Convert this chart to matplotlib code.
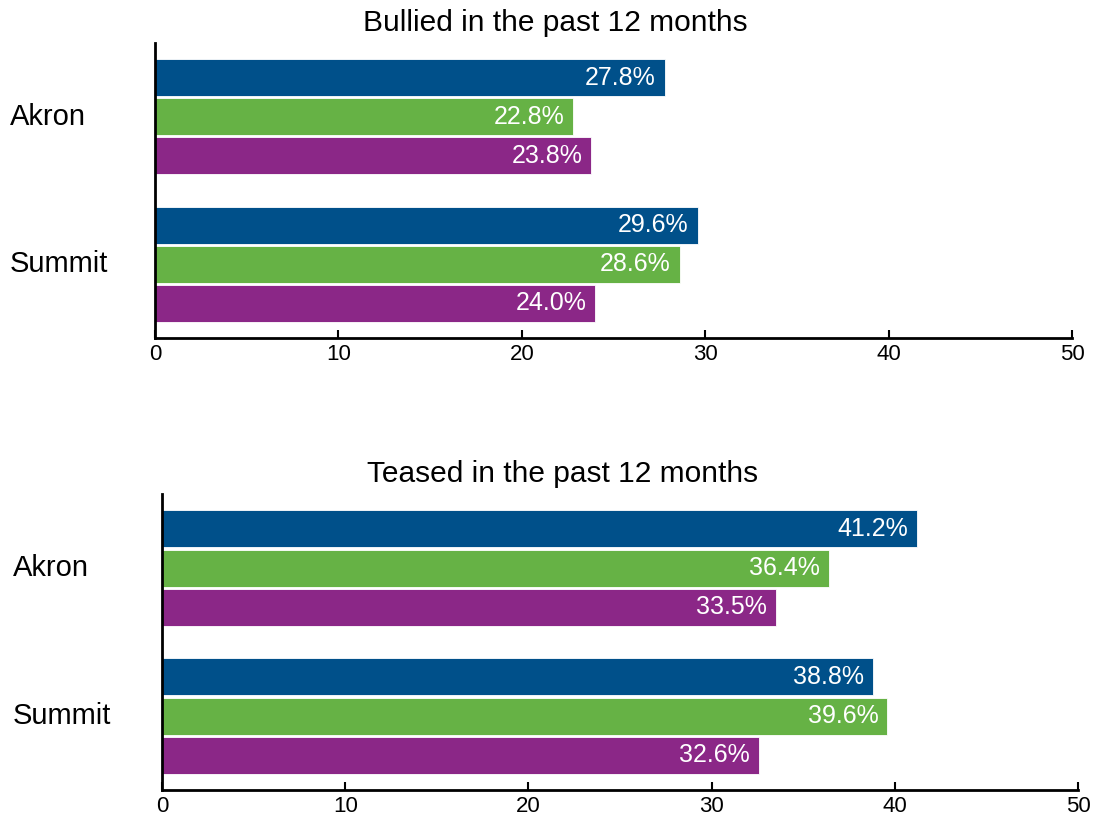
import matplotlib
matplotlib.use("Agg")
import matplotlib.pyplot as plt
import matplotlib.transforms as mtransforms
import numpy as np

plt.rcParams['font.family'] = ['Liberation Sans', 'DejaVu Sans']

categories = ["Akron", "Summit"]
series_names = ["Series 1", "Series 2", "Series 3"]
colors = ["#00508A", "#66B245", "#8B2787"]

bullied_akron = [27.8, 22.8, 23.8]
bullied_summit = [29.6, 28.6, 24.0]
teased_akron = [41.2, 36.4, 33.5]
teased_summit = [38.8, 39.6, 32.6]

titles = ["Bullied in the past 12 months", "Teased in the past 12 months"]
xticks = [0, 10, 20, 30, 40, 50]

fig = plt.figure(figsize=(10.97, 8.18), dpi=100)

panels = [
    dict(rect=[155/1097, 1-338/818, 917/1097, 295/818], data=[bullied_akron, bullied_summit],
         title=titles[0], title_xy=(555/1097, 1-23/818), lab_x=10/1097),
    dict(rect=[162/1097, 1-790/818, 916/1097, 296/818], data=[teased_akron, teased_summit],
         title=titles[1], title_xy=(563/1097, 1-474/818), lab_x=13/1097),
]

offsets = [-0.265, 0.0, 0.265]
height = 0.25

for p in panels:
    ax = fig.add_axes(p["rect"])
    for gi, group in enumerate(p["data"]):
        for si, val in enumerate(group):
            y = gi + offsets[si]
            ax.barh(y, val, height=height, color=colors[si], edgecolor="white", linewidth=0.6)
            ax.annotate(f"{val:.1f}%", xy=(val, y), xytext=(-6.5, 0), textcoords="offset points",
                        ha="right", va="center", color="white", fontsize=18)
    ax.set_xlim(0, 50)
    ax.set_ylim(1.5, -0.5)
    ax.set_xticks(xticks)
    ax.set_xticklabels([str(t) for t in xticks])
    ax.tick_params(axis="x", direction="in", length=6, width=1.5, labelsize=16, pad=4)
    ax.tick_params(axis="y", left=False, labelleft=False)
    for s in ["top", "right"]:
        ax.spines[s].set_visible(False)
    for s in ["left", "bottom"]:
        ax.spines[s].set_linewidth(2)
    trans = mtransforms.blended_transform_factory(fig.transFigure, ax.transData)
    for gi, cat in enumerate(categories):
        ax.text(p["lab_x"], gi, cat, transform=trans, ha="left", va="center", fontsize=21)
    fig.text(p["title_xy"][0], p["title_xy"][1], p["title"], ha="center", va="center", fontsize=21.5)

fig.savefig("out.png", dpi=100)
